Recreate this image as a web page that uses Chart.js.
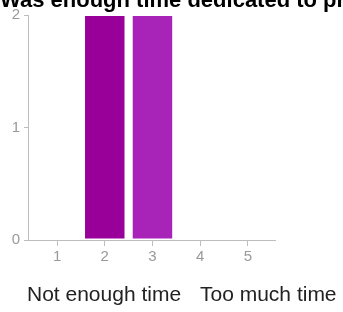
<!DOCTYPE html>
<html>
<head>
<meta charset="utf-8">
<script src="https://cdn.jsdelivr.net/npm/chart.js@4/dist/chart.umd.min.js"></script>
<style>
  html, body { margin: 0; padding: 0; background: #fff; }
  #wrap { position: relative; width: 343px; height: 312px; overflow: hidden; font-family: "Liberation Sans", Arial, sans-serif; }
  #title { position: absolute; left: 0; top: -11px; font-size: 22px; line-height: 22px; font-weight: bold; color: #000; white-space: nowrap; }
  .lbl { position: absolute; top: 282px; font-size: 21px; line-height: 24px; color: #222; white-space: nowrap; }
  #cv { position: absolute; left: 0; top: 0; }
</style>
</head>
<body>
<div id="wrap">
  <canvas id="cv" width="343" height="312"></canvas>
  <div id="title">Was enough time dedicated to practice?</div>
  <div class="lbl" style="left:27px">Not enough time</div>
  <div class="lbl" style="left:200px">Too much time</div>
</div>
<script>
const categories = [1, 2, 3, 4, 5];
const responses = [0, 2, 2, 0, 0];
const barColors = ['#990099', '#990099', '#a823b8', '#990099', '#990099'];
const yTicks = [0, 1, 2];

const points = categories.map((c, i) => ({ x: c, y: responses[i] }));

const ctx = document.getElementById('cv').getContext('2d');
new Chart(ctx, {
    type: 'bar',
    data: {
        datasets: [{
            data: points,
            backgroundColor: barColors,
            borderColor: 'rgba(255,255,255,0.35)',
            borderWidth: c => (c.raw && c.raw.y ? 1 : 0),
            borderSkipped: false,
            barPercentage: 0.87,
            categoryPercentage: 1
        }]
    },
    options: {
        responsive: false,
        animation: false,
        layout: { padding: { top: 15, right: 68, left: 0, bottom: 0 } },
        plugins: { legend: { display: false }, tooltip: { enabled: false } },
        scales: {
            x: {
                type: 'linear',
                offset: false,
                min: 0.39,
                max: 5.57,
                afterBuildTicks: s => { s.ticks = categories.map(v => ({ value: v })); },
                afterFit: s => { s.height = 72; },
                grid: { offset: false, drawOnChartArea: false, tickLength: 6, color: '#bdbdbd' },
                border: { color: '#bdbdbd' },
                ticks: { color: '#999', font: { family: 'Liberation Sans', size: 15 }, padding: 2, maxRotation: 0 }
            },
            y: {
                min: 0,
                max: 2,
                afterBuildTicks: s => { s.ticks = yTicks.map(v => ({ value: v })); },
                afterFit: s => { s.width = 28; },
                grid: { drawOnChartArea: false, tickLength: 4, color: '#bdbdbd' },
                border: { color: '#bdbdbd' },
                ticks: { color: '#999', font: { family: 'Liberation Sans', size: 15 }, padding: 4 }
            }
        }
    }
});
</script>
</body>
</html>
